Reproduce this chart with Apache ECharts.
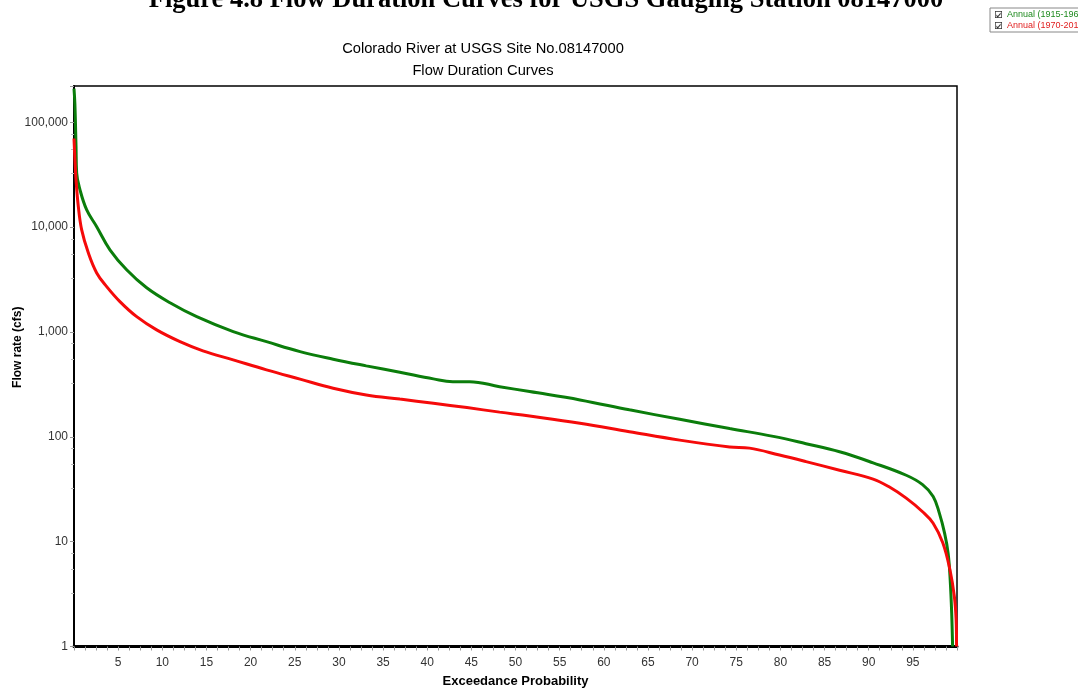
<!DOCTYPE html>
<html>
<head>
<meta charset="utf-8">
<script src="https://cdn.jsdelivr.net/npm/echarts@6/dist/echarts.min.js"></script>
<style>
html,body{margin:0;padding:0;background:#fff;}
#chart{width:1078px;height:688px;}
</style>
</head>
<body>
<div id="chart"></div>
<script>
// ---- data ----
var figureTitle = 'Figure 4.8 Flow Duration Curves for USGS Gauging Station 08147000';
var chartTitle = 'Colorado River at USGS Site No.08147000\nFlow Duration Curves';
var seriesNames = ['Annual (1915-1969)', 'Annual (1970-2017)'];
var xAxisName = 'Exceedance Probability';
var yAxisName = 'Flow rate (cfs)';
var yTickValues = [1, 10, 100, 1000, 10000, 100000];
var xTickLabels = [5, 10, 15, 20, 25, 30, 35, 40, 45, 50, 55, 60, 65, 70, 75, 80, 85, 90, 95];

// Annual 1915-1969 (green): exceedance probability (%) and flow (cfs)
var earlyP = [0, 0.1, 0.23, 0.3, 0.68, 1.44, 2.57, 4.07, 5.96, 8.23, 10.87, 13.9, 18.03, 21.8, 25.6, 29.35, 33.1, 36.9, 40.7, 42.9, 44.8, 48.2, 51.6, 57.3, 62.9, 68.6, 74.25, 79.2, 82.9, 86.7, 90.5, 94.25, 96.1, 97.3, 98.0, 98.6, 99.0, 99.23, 99.4, 99.5];
var earlyQ = [210000, 150000, 58600, 33000, 22700, 14600, 10100, 6080, 3920, 2640, 1900, 1400, 1009, 809, 650, 550, 475, 413, 357, 336, 336, 301, 270, 225, 181, 147, 120, 101, 86, 72, 56.5, 43, 35, 27, 18.7, 12, 7.7, 4.3, 2.07, 1];

// Annual 1970-2017 (red)
var lateP = [0, 0.1, 0.23, 0.49, 0.87, 1.62, 2.57, 3.7, 5.2, 7.1, 9.36, 12, 14.6, 18.03, 21.8, 25.6, 29.35, 33.1, 36.9, 40.7, 44.5, 48.2, 51.6, 57.3, 62.9, 68.6, 74.25, 76.5, 79.9, 82.9, 86.7, 90.5, 92.4, 94.25, 96.1, 97.3, 98.4, 99.2, 99.7, 99.9, 99.95];
var lateQ = [70000, 45000, 28300, 15700, 9420, 5690, 3660, 2710, 1950, 1400, 1047, 809, 661, 542, 435, 355, 291, 251, 229, 209, 190, 172, 158, 135, 112, 93, 80, 78, 67, 58, 48, 39.5, 33, 26, 19.3, 15, 9.7, 5.4, 3.0, 1.8, 1.0];

function pairs(px, qy) {
  return px.map(function (p, i) { return [p, qy[i]]; });
}

var checkIcon = 'path://M0,0L10,0L10,10L0,10Z M1,1L1,9L9,9L9,1Z M2,5L4,7L8,2.2L8,4.6L4,9.4L2,7.4Z';

var chart = echarts.init(document.getElementById('chart'), null, {renderer: 'canvas'});
chart.setOption({
  animation: false,
  backgroundColor: '#ffffff',
  title: [
    {
      text: figureTitle,
      left: 546, top: -13, textAlign: 'center', padding: 0,
      textStyle: {fontFamily: 'Liberation Serif', fontWeight: 'bold', fontSize: 26.5, color: '#000'}
    },
    {
      text: chartTitle,
      left: 483, top: 38, textAlign: 'center', padding: 0,
      textStyle: {fontFamily: 'Liberation Sans', fontWeight: 'normal', fontSize: 14.7, lineHeight: 22, color: '#000'}
    }
  ],
  legend: {
    orient: 'vertical',
    left: 990, top: 8,
    itemWidth: 7, itemHeight: 7, itemGap: 2,
    padding: [2, 4, 2, 5],
    borderColor: '#888', borderWidth: 1,
    icon: checkIcon,
    selectedMode: false,
    data: [
      {name: seriesNames[0], itemStyle: {color: '#333'}, textStyle: {color: '#1f8a1f'}},
      {name: seriesNames[1], itemStyle: {color: '#333'}, textStyle: {color: '#e02020'}}
    ],
    textStyle: {fontFamily: 'Liberation Sans', fontSize: 9}
  },
  grid: {left: 74, right: 121, top: 86, bottom: 41.5, outerBoundsMode: 'none', containLabel: false, show: true, borderColor: '#000', borderWidth: 1.5, backgroundColor: 'transparent'},
  xAxis: {
    type: 'value', min: 0, max: 100, interval: 5,
    name: xAxisName, nameLocation: 'middle', nameGap: 28, nameMoveOverlap: false,
    nameTextStyle: {fontFamily: 'Liberation Sans', fontWeight: 'bold', fontSize: 13, color: '#000'},
    axisLine: {show: true, lineStyle: {color: '#000', width: 3}},
    axisTick: {show: true, length: 4, lineStyle: {color: '#999'}},
    minorTick: {show: true, splitNumber: 4, length: 4, lineStyle: {color: '#999'}},
    splitLine: {show: false},
    axisLabel: {
      margin: 10, fontFamily: 'Liberation Sans', fontSize: 12, color: '#333',
      formatter: function (v) { return xTickLabels.indexOf(v) >= 0 ? String(v) : ''; }
    }
  },
  yAxis: {
    type: 'log', logBase: 10, min: 1, max: 222000,
    name: yAxisName, nameLocation: 'middle', nameGap: 50, nameMoveOverlap: false,
    nameTextStyle: {fontFamily: 'Liberation Sans', fontWeight: 'bold', fontSize: 12, color: '#000', padding: [0, 0, 0, 38]},
    axisLine: {show: true, lineStyle: {color: '#000', width: 2}},
    axisTick: {show: true, length: 4, lineStyle: {color: '#999'}},
    minorTick: {show: true, splitNumber: 4, length: 3, lineStyle: {color: '#bbb'}},
    splitLine: {show: false},
    axisLabel: {
      margin: 6, fontFamily: 'Liberation Sans', fontSize: 12, color: '#333',
      formatter: function (v) {
        for (var i = 0; i < yTickValues.length; i++) {
          if (Math.abs(v - yTickValues[i]) < 1e-6 * yTickValues[i]) return yTickValues[i].toLocaleString('en-US');
        }
        return '';
      }
    }
  },
  series: [
    {
      name: seriesNames[0], type: 'line', data: pairs(earlyP, earlyQ),
      showSymbol: false, smooth: 0.4,
      lineStyle: {color: '#0b7d0b', width: 3}, itemStyle: {color: '#0b7d0b'}
    },
    {
      name: seriesNames[1], type: 'line', data: pairs(lateP, lateQ),
      showSymbol: false, smooth: 0.4,
      lineStyle: {color: '#f50a0a', width: 3}, itemStyle: {color: '#f50a0a'}
    }
  ]
});
</script>
</body>
</html>
